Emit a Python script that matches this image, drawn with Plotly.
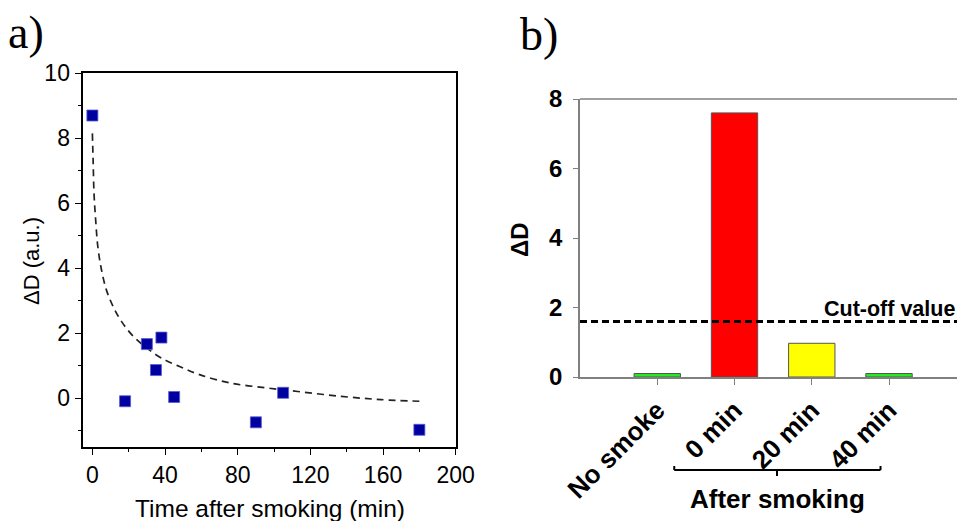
import plotly.graph_objects as go

W, H = 957, 521

# ---- Panel a data ----
time_min = [0, 18, 30, 35, 38, 45, 90, 105, 180]
delta_d = [8.70, -0.10, 1.66, 0.86, 1.86, 0.03, -0.75, 0.16, -0.98]

fit_x = [0, 0.4, 0.9, 1.8, 3, 5, 7.7, 11.4, 16, 22.5, 30, 38, 48, 59, 76, 96, 113, 137, 159, 180]
fit_y = [8.15, 7.33, 6.3, 5.49, 4.66, 3.95, 3.33, 2.82, 2.36, 1.9, 1.54, 1.23, 0.97, 0.72,
         0.46, 0.31, 0.2, 0.05, -0.05, -0.1]

# ---- Panel b data ----
categories = ["No smoke", "0 min", "20 min", "40 min"]
bar_values = [0.1, 7.6, 0.97, 0.1]
bar_colors = ["#22ee22", "#ff0000", "#ffff00", "#22ee22"]
cutoff_value = 1.6

fig = go.Figure()

fig.add_trace(go.Scatter(
    x=fit_x, y=fit_y, mode="lines", line=dict(color="#222222", width=1.7, dash="7px,5px", shape="spline"),
    xaxis="x", yaxis="y", showlegend=False, hoverinfo="skip"))
fig.add_trace(go.Scatter(
    x=time_min, y=delta_d, mode="markers",
    marker=dict(symbol="square", size=11, color="#0000a0", line=dict(color="#5a5ad0", width=0.8)),
    xaxis="x", yaxis="y", showlegend=False))

fig.add_trace(go.Bar(
    x=categories, y=bar_values, marker=dict(color=bar_colors, line=dict(color="#555555", width=1)),
    width=0.6, xaxis="x2", yaxis="y2", showlegend=False))

def px_x(p):
    return p / W

def px_y(p):
    return 1 - p / H

fontA = "Arial, Liberation Sans, sans-serif"

fig.update_layout(
    width=W, height=H,
    margin=dict(l=0, r=0, t=0, b=0, autoexpand=False),
    paper_bgcolor="white", plot_bgcolor="white",
    font=dict(family=fontA, color="black"),
    xaxis=dict(
        domain=[px_x(83.3), px_x(455.7)], anchor="y", automargin=False,
        range=[-5, 200], tickvals=[0, 40, 80, 120, 160, 200],
        ticks="outside", ticklen=7, tickwidth=1.2, tickcolor="black",
        minor=dict(dtick=20, tick0=0, ticks="outside", ticklen=4, tickwidth=1.2, tickcolor="black"),
        showline=True, linecolor="black", linewidth=1.5, mirror=True,
        showgrid=False, zeroline=False,
        tickfont=dict(size=23, family=fontA),
    ),
    yaxis=dict(
        domain=[px_y(446.7), px_y(73.3)], anchor="x", automargin=False,
        range=[-1.5, 10], tickvals=[0, 2, 4, 6, 8, 10],
        ticks="outside", ticklen=7, tickwidth=1.2, tickcolor="black",
        minor=dict(dtick=1, tick0=-1, ticks="outside", ticklen=4, tickwidth=1.2, tickcolor="black"),
        showline=True, linecolor="black", linewidth=1.5, mirror=True,
        showgrid=False, zeroline=False,
        tickfont=dict(size=23, family=fontA),
    ),
    xaxis2=dict(
        domain=[px_x(580), 1.0], anchor="y2", automargin=False,
        type="category", range=[-1, 3.88],
        ticks="outside", ticklen=6, tickwidth=1, tickcolor="#808080",
        tickangle=-45,
        showline=True, linecolor="#808080", linewidth=1.5,
        showgrid=False, zeroline=False,
        tickfont=dict(size=26, family=fontA, weight="bold"),
    ),
    yaxis2=dict(
        domain=[px_y(377), px_y(99)], anchor="x2", automargin=False,
        range=[0, 8], tickvals=[0, 2, 4, 6, 8],
        ticks="outside", ticklen=5, tickwidth=1, tickcolor="#808080",
        ticklabelstandoff=6,
        showline=True, linecolor="#808080", linewidth=1.5,
        showgrid=False, zeroline=False,
        tickfont=dict(size=24, family=fontA, weight="bold"),
    ),
    bargap=0.4,
)

# top frame line of panel b (extends past right edge)
fig.add_shape(type="line", xref="x2 domain", yref="y2 domain", x0=0, x1=1, y0=1, y1=1,
              line=dict(color="#808080", width=1.5))
# cut-off line
fig.add_shape(type="line", xref="x2 domain", yref="y2", x0=0, x1=1, y0=cutoff_value, y1=cutoff_value,
              line=dict(color="black", width=3, dash="7px,4px"))

# bracket under "0 min" .. "40 min"
br_y = px_y(470)
br_l, br_r, br_m = 0.22, 2.89, 1.55
fig.add_shape(type="line", xref="x2", yref="paper", x0=br_l, x1=br_r, y0=br_y, y1=br_y,
              line=dict(color="black", width=2))
fig.add_shape(type="line", xref="x2", yref="paper", x0=br_l, x1=br_l, y0=br_y, y1=px_y(466),
              line=dict(color="black", width=2))
fig.add_shape(type="line", xref="x2", yref="paper", x0=br_r, x1=br_r, y0=br_y, y1=px_y(466),
              line=dict(color="black", width=2))
fig.add_shape(type="line", xref="x2", yref="paper", x0=br_m, x1=br_m, y0=br_y, y1=px_y(476),
              line=dict(color="black", width=2))

annotations = [
    dict(text="a)", x=px_x(6), y=px_y(33), xref="paper", yref="paper", xanchor="left", yanchor="middle",
         showarrow=False, font=dict(family="Liberation Serif, Times New Roman, serif", size=46)),
    dict(text="b)", x=px_x(518), y=px_y(35), xref="paper", yref="paper", xanchor="left", yanchor="middle",
         showarrow=False, font=dict(family="Liberation Serif, Times New Roman, serif", size=46)),
    dict(text="ΔD (a.u.)", x=px_x(31), y=px_y(261), xref="paper", yref="paper", xanchor="center",
         yanchor="middle", textangle=-90, showarrow=False, font=dict(size=22, family=fontA)),
    dict(text="Time after smoking (min)", x=px_x(270), y=px_y(508), xref="paper", yref="paper",
         xanchor="center", yanchor="middle", showarrow=False, font=dict(size=24.5, family=fontA)),
    dict(text="<b>ΔD</b>", x=px_x(519), y=px_y(240), xref="paper", yref="paper", xanchor="center",
         yanchor="middle", textangle=-90, showarrow=False, font=dict(size=24, family=fontA)),
    dict(text="<b>Cut-off value</b>", x=px_x(822), y=px_y(309), xref="paper", yref="paper", xanchor="left",
         yanchor="middle", showarrow=False, font=dict(size=21.5, family=fontA)),
    dict(text="<b>After smoking</b>", x=br_m, y=px_y(499), xref="x2", yref="paper", xanchor="center",
         yanchor="middle", showarrow=False, font=dict(size=26, family=fontA)),
]
fig.update_layout(annotations=annotations)

fig.write_html("out.html")
